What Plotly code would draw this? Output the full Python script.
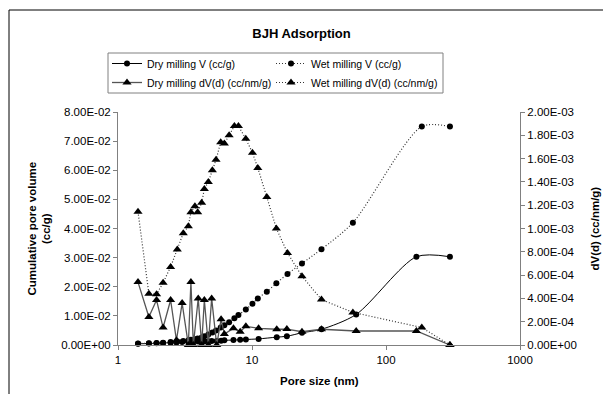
import plotly.graph_objects as go

# ---- data ----
pore_dry = [1.41, 1.70, 1.94, 2.17, 2.47, 2.73, 3.01, 3.35, 3.50, 3.65, 3.97, 4.21, 4.41, 4.72,
            5.00, 5.45, 5.88, 6.22, 7.27, 8.16, 9.0, 11.2, 15.3, 18.2, 23.6, 33.0, 59.9, 168.6, 300]
dry_v = [0.0004, 0.0005, 0.0006, 0.0007, 0.0008, 0.0009, 0.0010, 0.0010, 0.0011, 0.0011, 0.0012,
         0.0012, 0.0013, 0.0013, 0.0014, 0.0014, 0.0015, 0.0016, 0.0017, 0.0018, 0.0019, 0.0021,
         0.0027, 0.0030, 0.0042, 0.0054, 0.0105, 0.0303, 0.0303]
dry_dv = [5.4e-4, 2.4e-4, 3.86e-4, 1.5e-4, 3.86e-4, 4e-5, 3.6e-4, 0, 5.4e-4, 0, 4.0e-4, 0, 3.86e-4, 0,
          4.0e-4, 0, 2.2e-4, 9.4e-5, 1.43e-4, 1.14e-4, 1.6e-4, 1.43e-4, 1.35e-4, 1.37e-4, 1.14e-4,
          1.35e-4, 1.2e-4, 1.2e-4, 0]

pore_wet = [1.41, 1.70, 1.94, 2.17, 2.47, 2.77, 3.07, 3.35, 3.50, 3.75, 3.93, 4.21, 4.41, 4.72,
            5.06, 5.39, 5.84, 6.22, 6.75, 7.39, 7.92, 8.99, 10.08, 11.05, 12.9, 15.2, 18.4, 23.6,
            33.0, 56.6, 185, 300]
wet_v = [0.0005, 0.0006, 0.0007, 0.0008, 0.0010, 0.0012, 0.0014, 0.0016, 0.0018, 0.0020, 0.0022,
         0.0026, 0.0030, 0.0036, 0.0043, 0.0050, 0.0060, 0.0068, 0.0078, 0.0092, 0.0103, 0.0122,
         0.0142, 0.0160, 0.0183, 0.0212, 0.0244, 0.0280, 0.0329, 0.0420, 0.0750, 0.0750]
wet_dv = [1.144e-3, 4.4e-4, 4.35e-4, 5.35e-4, 6.7e-4, 8.2e-4, 9.6e-4, 1.02e-3, 1.14e-3, 1.19e-3,
          1.14e-3, 1.22e-3, 1.34e-3, 1.40e-3, 1.50e-3, 1.59e-3, 1.74e-3, 1.73e-3, 1.80e-3, 1.88e-3,
          1.88e-3, 1.77e-3, 1.65e-3, 1.52e-3, 1.27e-3, 1.00e-3, 7.9e-4, 5.9e-4, 3.9e-4, 2.8e-4,
          1.5e-4, 0]

x_tickvals = [1, 10, 100, 1000]
x_ticktext = ["1", "10", "100", "1000"]
left_tickvals = [0, 0.01, 0.02, 0.03, 0.04, 0.05, 0.06, 0.07, 0.08]
left_ticktext = ["0.00E+00", "1.00E-02", "2.00E-02", "3.00E-02", "4.00E-02",
                 "5.00E-02", "6.00E-02", "7.00E-02", "8.00E-02"]
right_tickvals = [0, 2e-4, 4e-4, 6e-4, 8e-4, 1e-3, 1.2e-3, 1.4e-3, 1.6e-3, 1.8e-3, 2e-3]
right_ticktext = ["0.00E+00", "2.00E-04", "4.00E-04", "6.00E-04", "8.00E-04", "1.00E-03",
                  "1.20E-03", "1.40E-03", "1.60E-03", "1.80E-03", "2.00E-03"]

FONT = "Liberation Sans, Arial, sans-serif"
AX = "#808080"
DOT = "1px,2px"

fig = go.Figure()
fig.add_trace(go.Scatter(
    x=pore_dry, y=dry_v, name="Dry milling V (cc/g)", mode="lines+markers", cliponaxis=False,
    legend="legend",
    line=dict(color="black", width=1, shape="spline", smoothing=0.8),
    marker=dict(symbol="circle", size=6, color="black")))
fig.add_trace(go.Scatter(
    x=pore_dry, y=dry_dv, name="Dry milling dV(d) (cc/nm/g)", mode="lines+markers", yaxis="y2",
    cliponaxis=False, legend="legend",
    line=dict(color="#555555", width=1.3),
    marker=dict(symbol="triangle-up", size=8, color="black")))
fig.add_trace(go.Scatter(
    x=pore_wet, y=wet_v, name="Wet milling V (cc/g)", mode="lines+markers", cliponaxis=False,
    legend="legend2",
    line=dict(color="#333333", width=1.2, dash=DOT, shape="spline", smoothing=0.8),
    marker=dict(symbol="circle", size=6, color="black")))
fig.add_trace(go.Scatter(
    x=pore_wet, y=wet_dv, name="Wet milling dV(d) (cc/nm/g)", mode="lines+markers", yaxis="y2",
    cliponaxis=False, legend="legend2",
    line=dict(color="#333333", width=1.2, dash=DOT),
    marker=dict(symbol="triangle-up", size=8, color="black")))

L, R, T, B = 118, 83, 112, 49
W, H = 603, 394
pw, ph = W - L - R, H - T - B

def px(xpix):
    return (xpix - L) / pw

def py(ypix):
    return (H - B - ypix) / ph

legend_common = dict(orientation="v", yanchor="top", xanchor="left",
                     bgcolor="rgba(0,0,0,0)", borderwidth=0, tracegroupgap=0,
                     font=dict(family=FONT, size=10.5, color="black"), itemwidth=30)

tickfont = dict(family=FONT, size=11.5, color="black")

fig.update_layout(
    width=W, height=H,
    margin=dict(l=L, r=R, t=T, b=B),
    paper_bgcolor="white", plot_bgcolor="white",
    font=dict(family=FONT, size=11, color="black"),
    title=dict(text="<b>BJH Adsorption</b>", font=dict(family=FONT, size=13, color="black"),
               x=0.5, xref="container", xanchor="center",
               y=1 - 33 / H, yref="container", yanchor="middle"),
    showlegend=True,
    legend=dict(x=px(107), y=py(49), **legend_common),
    legend2=dict(x=px(271), y=py(49), **legend_common),
    xaxis=dict(type="log", range=[0, 3], tickvals=x_tickvals, ticktext=x_ticktext,
               showline=True, linecolor=AX, linewidth=1, ticks="outside", ticklen=4,
               tickcolor=AX, showgrid=False, zeroline=False, tickfont=tickfont),
    yaxis=dict(range=[0, 0.08], tickvals=left_tickvals, ticktext=left_ticktext,
               showline=True, linecolor=AX, linewidth=1, ticks="outside", ticklen=4,
               tickcolor=AX, showgrid=False, zeroline=False, tickfont=tickfont),
    yaxis2=dict(range=[0, 0.002], tickvals=right_tickvals, ticktext=right_ticktext,
                overlaying="y", side="right",
                showline=True, linecolor=AX, linewidth=1, ticks="outside", ticklen=4,
                tickcolor=AX, showgrid=False, zeroline=False, tickfont=tickfont),
    annotations=[
        dict(text="<b>Cumulative pore volume<br>(cc/g)</b>", x=px(39), y=0.5, xref="paper",
             yref="paper", textangle=-90, showarrow=False, xanchor="center", yanchor="middle",
             font=dict(family=FONT, size=11.5, color="black")),
        dict(text="<b>dV(d) (cc/nm/g)</b>", x=px(594), y=0.5, xref="paper", yref="paper",
             textangle=-90, showarrow=False, xanchor="center", yanchor="middle",
             font=dict(family=FONT, size=11.5, color="black")),
        dict(text="<b>Pore size (nm)</b>", x=0.5, y=py(381), xref="paper", yref="paper",
             showarrow=False, xanchor="center", yanchor="middle",
             font=dict(family=FONT, size=11.5, color="black")),
    ],
    shapes=[
        dict(type="rect", xref="paper", yref="paper", x0=px(9), x1=px(700),
             y0=py(500), y1=py(10), line=dict(color="black", width=1),
             fillcolor="rgba(0,0,0,0)", layer="below"),
        dict(type="rect", xref="paper", yref="paper", x0=px(108), x1=px(443),
             y0=py(93), y1=py(53), line=dict(color=AX, width=1),
             fillcolor="rgba(0,0,0,0)", layer="above"),
    ],
)

fig.write_html("out.html")
